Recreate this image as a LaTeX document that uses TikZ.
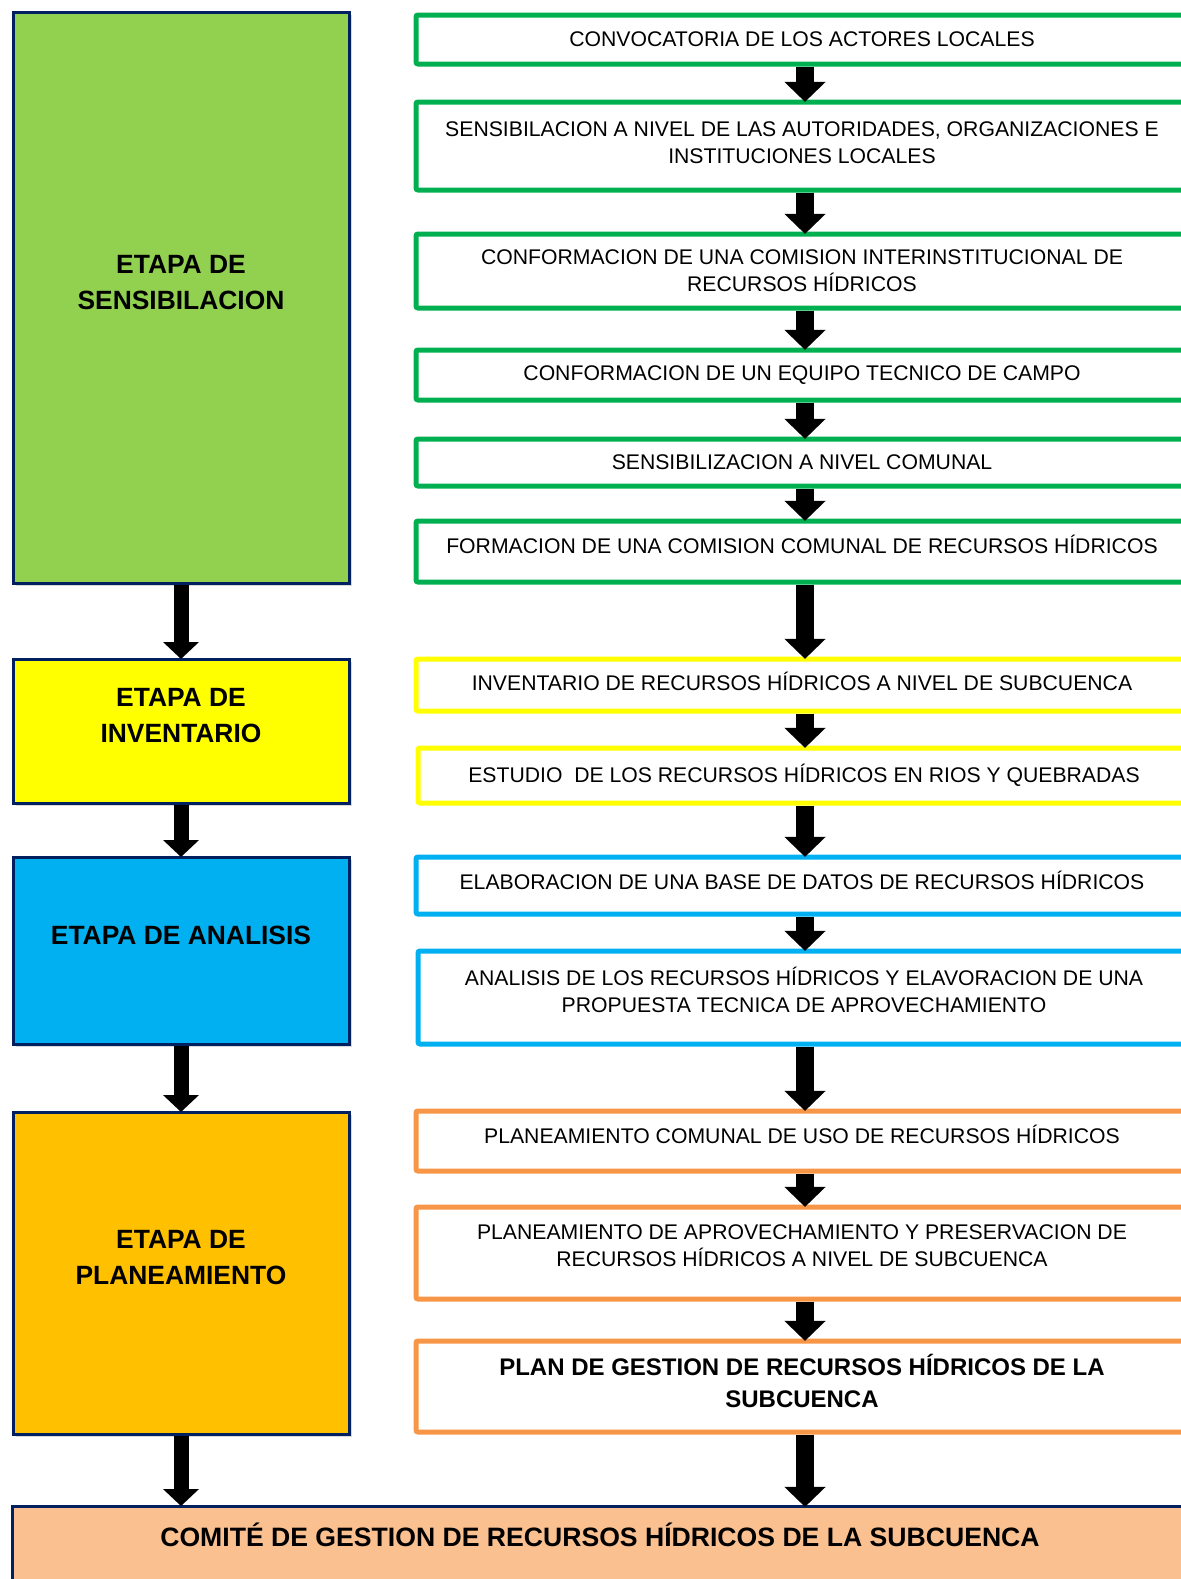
\documentclass[tikz,border=0pt]{standalone}
\usepackage{fontspec}
\setmainfont{Liberation Sans}
\usetikzlibrary{arrows.meta,shadows}

\definecolor{navyline}{HTML}{002060}
\definecolor{sensgreen}{HTML}{92D050}
\definecolor{invyellow}{HTML}{FFFF00}
\definecolor{analblue}{HTML}{00B0F0}
\definecolor{plangold}{HTML}{FFC000}
\definecolor{comitefill}{HTML}{FAC090}
\definecolor{pasogreen}{HTML}{00B050}
\definecolor{pasoorange}{HTML}{F79646}

\begin{document}
\begin{tikzpicture}[x=0.5pt,y=-0.5pt]
    \tikzstyle{etapa} = [draw=navyline,line width=1.5pt,minimum width=168pt,drop shadow={opacity=0.3,shadow xshift=1.5pt,shadow yshift=-1.5pt}]
    \tikzstyle{etapatxt} = [font=\fontsize{13.2}{18}\selectfont\bfseries,align=center,yshift=7.5pt]
    \tikzstyle{paso} = [draw,line width=2.5pt,fill=white,minimum width=386pt,font=\fontsize{10.6}{13.5}\selectfont,align=center,rounded corners=1pt]
    \tikzstyle{arriba} = [text depth=7pt]
    \tikzstyle{flecha} = [line width=9pt,-{Triangle[width=20pt,length=10pt]},shorten >=-1.2pt,transform canvas={xshift=1.5pt}]
    \tikzstyle{flechaizq} = [line width=7.5pt,-{Triangle[width=17.5pt,length=8.5pt]},shorten >=-0.75pt]
    \clip (0,0) rectangle (1181,1579);

    % etapas
    \node[etapa,fill=sensgreen,minimum height=285.5pt,label={[etapatxt]center:ETAPA DE\\SENSIBILACION}] (sens) at (181,297.5) {};
    \node[etapa,fill=invyellow,minimum height=72pt,label={[etapatxt]center:ETAPA DE\\INVENTARIO}] (inv) at (181,731) {};
    \node[etapa,fill=analblue,minimum height=93.5pt,label={[etapatxt]center:ETAPA DE ANALISIS}] (anal) at (181,950.5) {};
    \node[etapa,fill=plangold,minimum height=161pt,label={[etapatxt]center:ETAPA DE\\PLANEAMIENTO}] (plan) at (181,1273) {};
    \node[etapa,fill=comitefill,minimum width=593.5pt,minimum height=47pt,label={[font=\fontsize{13.3}{16}\selectfont\bfseries,anchor=base,xshift=-3pt,yshift=9.25pt]center:COMITÉ DE GESTION DE RECURSOS HÍDRICOS DE LA SUBCUENCA}] (comite) at (606,1553) {};

    % pasos
    \node[paso,draw=pasogreen,minimum height=24.5pt] (conv) at (802,39.5) {CONVOCATORIA DE LOS ACTORES LOCALES};
    \node[paso,draw=pasogreen,minimum height=44pt,text depth=3pt] (sensib) at (802,146) {SENSIBILACION A NIVEL DE LAS AUTORIDADES, ORGANIZACIONES E\\INSTITUCIONES LOCALES};
    \node[paso,draw=pasogreen,minimum height=37pt] (comis) at (802,271) {CONFORMACION DE UNA COMISION INTERINSTITUCIONAL DE\\RECURSOS HÍDRICOS};
    \node[paso,draw=pasogreen,minimum height=25pt] (equipo) at (802,375) {CONFORMACION DE UN EQUIPO TECNICO DE CAMPO};
    \node[paso,draw=pasogreen,minimum height=23.5pt] (comunal) at (802,462.5) {SENSIBILIZACION A NIVEL COMUNAL};
    \node[paso,draw=pasogreen,minimum height=30.5pt,arriba] (formac) at (802,551.5) {FORMACION DE UNA COMISION COMUNAL DE RECURSOS HÍDRICOS};
    \node[paso,draw=invyellow,minimum height=26pt,text depth=4pt] (invent) at (802,685) {INVENTARIO DE RECURSOS HÍDRICOS A NIVEL DE SUBCUENCA};
    \node[paso,draw=invyellow,minimum height=27.5pt] (estudio) at (804,775.5) {ESTUDIO\ \ DE LOS RECURSOS HÍDRICOS EN RIOS Y QUEBRADAS};
    \node[paso,draw=analblue,minimum height=28.5pt,text depth=5.5pt] (elabor) at (802,885.5) {ELABORACION DE UNA BASE DE DATOS DE RECURSOS HÍDRICOS};
    \node[paso,draw=analblue,minimum height=46.5pt,text depth=8pt] (propuesta) at (804,997.5) {ANALISIS DE LOS RECURSOS HÍDRICOS Y ELAVORACION DE UNA\\PROPUESTA TECNICA DE APROVECHAMIENTO};
    \node[paso,draw=pasoorange,minimum height=30pt,arriba] (placom) at (802,1141) {PLANEAMIENTO COMUNAL DE USO DE RECURSOS HÍDRICOS};
    \node[paso,draw=pasoorange,minimum height=46pt,arriba] (plapro) at (802,1253) {PLANEAMIENTO DE APROVECHAMIENTO Y PRESERVACION DE\\RECURSOS HÍDRICOS A NIVEL DE SUBCUENCA};
    \node[paso,draw=pasoorange,minimum height=45.5pt,font=\fontsize{12}{16}\selectfont\bfseries,text depth=6pt] (plagest) at (802,1386.5) {PLAN DE GESTION DE RECURSOS HÍDRICOS DE LA\\SUBCUENCA};

    % flechas
    \draw[flechaizq] (sens) -- (inv);
    \draw[flechaizq] (inv) -- (anal);
    \draw[flechaizq] (anal) -- (plan);
    \draw[flechaizq] (plan.south) -- (plan.south |- comite.north);

    \draw[flecha] (conv) -- (sensib);
    \draw[flecha] (sensib) -- (comis);
    \draw[flecha] (comis) -- (equipo);
    \draw[flecha] (equipo) -- (comunal);
    \draw[flecha] (comunal) -- (formac);
    \draw[flecha] (formac) -- (invent);
    \draw[flecha] (invent.south) -- (invent.south |- estudio.north);
    \draw[flecha] (estudio.south -| invent.south) -- (invent.south |- elabor.north);
    \draw[flecha] (elabor.south) -- (elabor.south |- propuesta.north);
    \draw[flecha] (propuesta.south -| elabor.south) -- (placom);
    \draw[flecha] (placom) -- (plapro);
    \draw[flecha] (plapro) -- (plagest);
    \draw[flecha] (plagest.south) -- (plagest.south |- comite.north);
\end{tikzpicture}
\end{document}
